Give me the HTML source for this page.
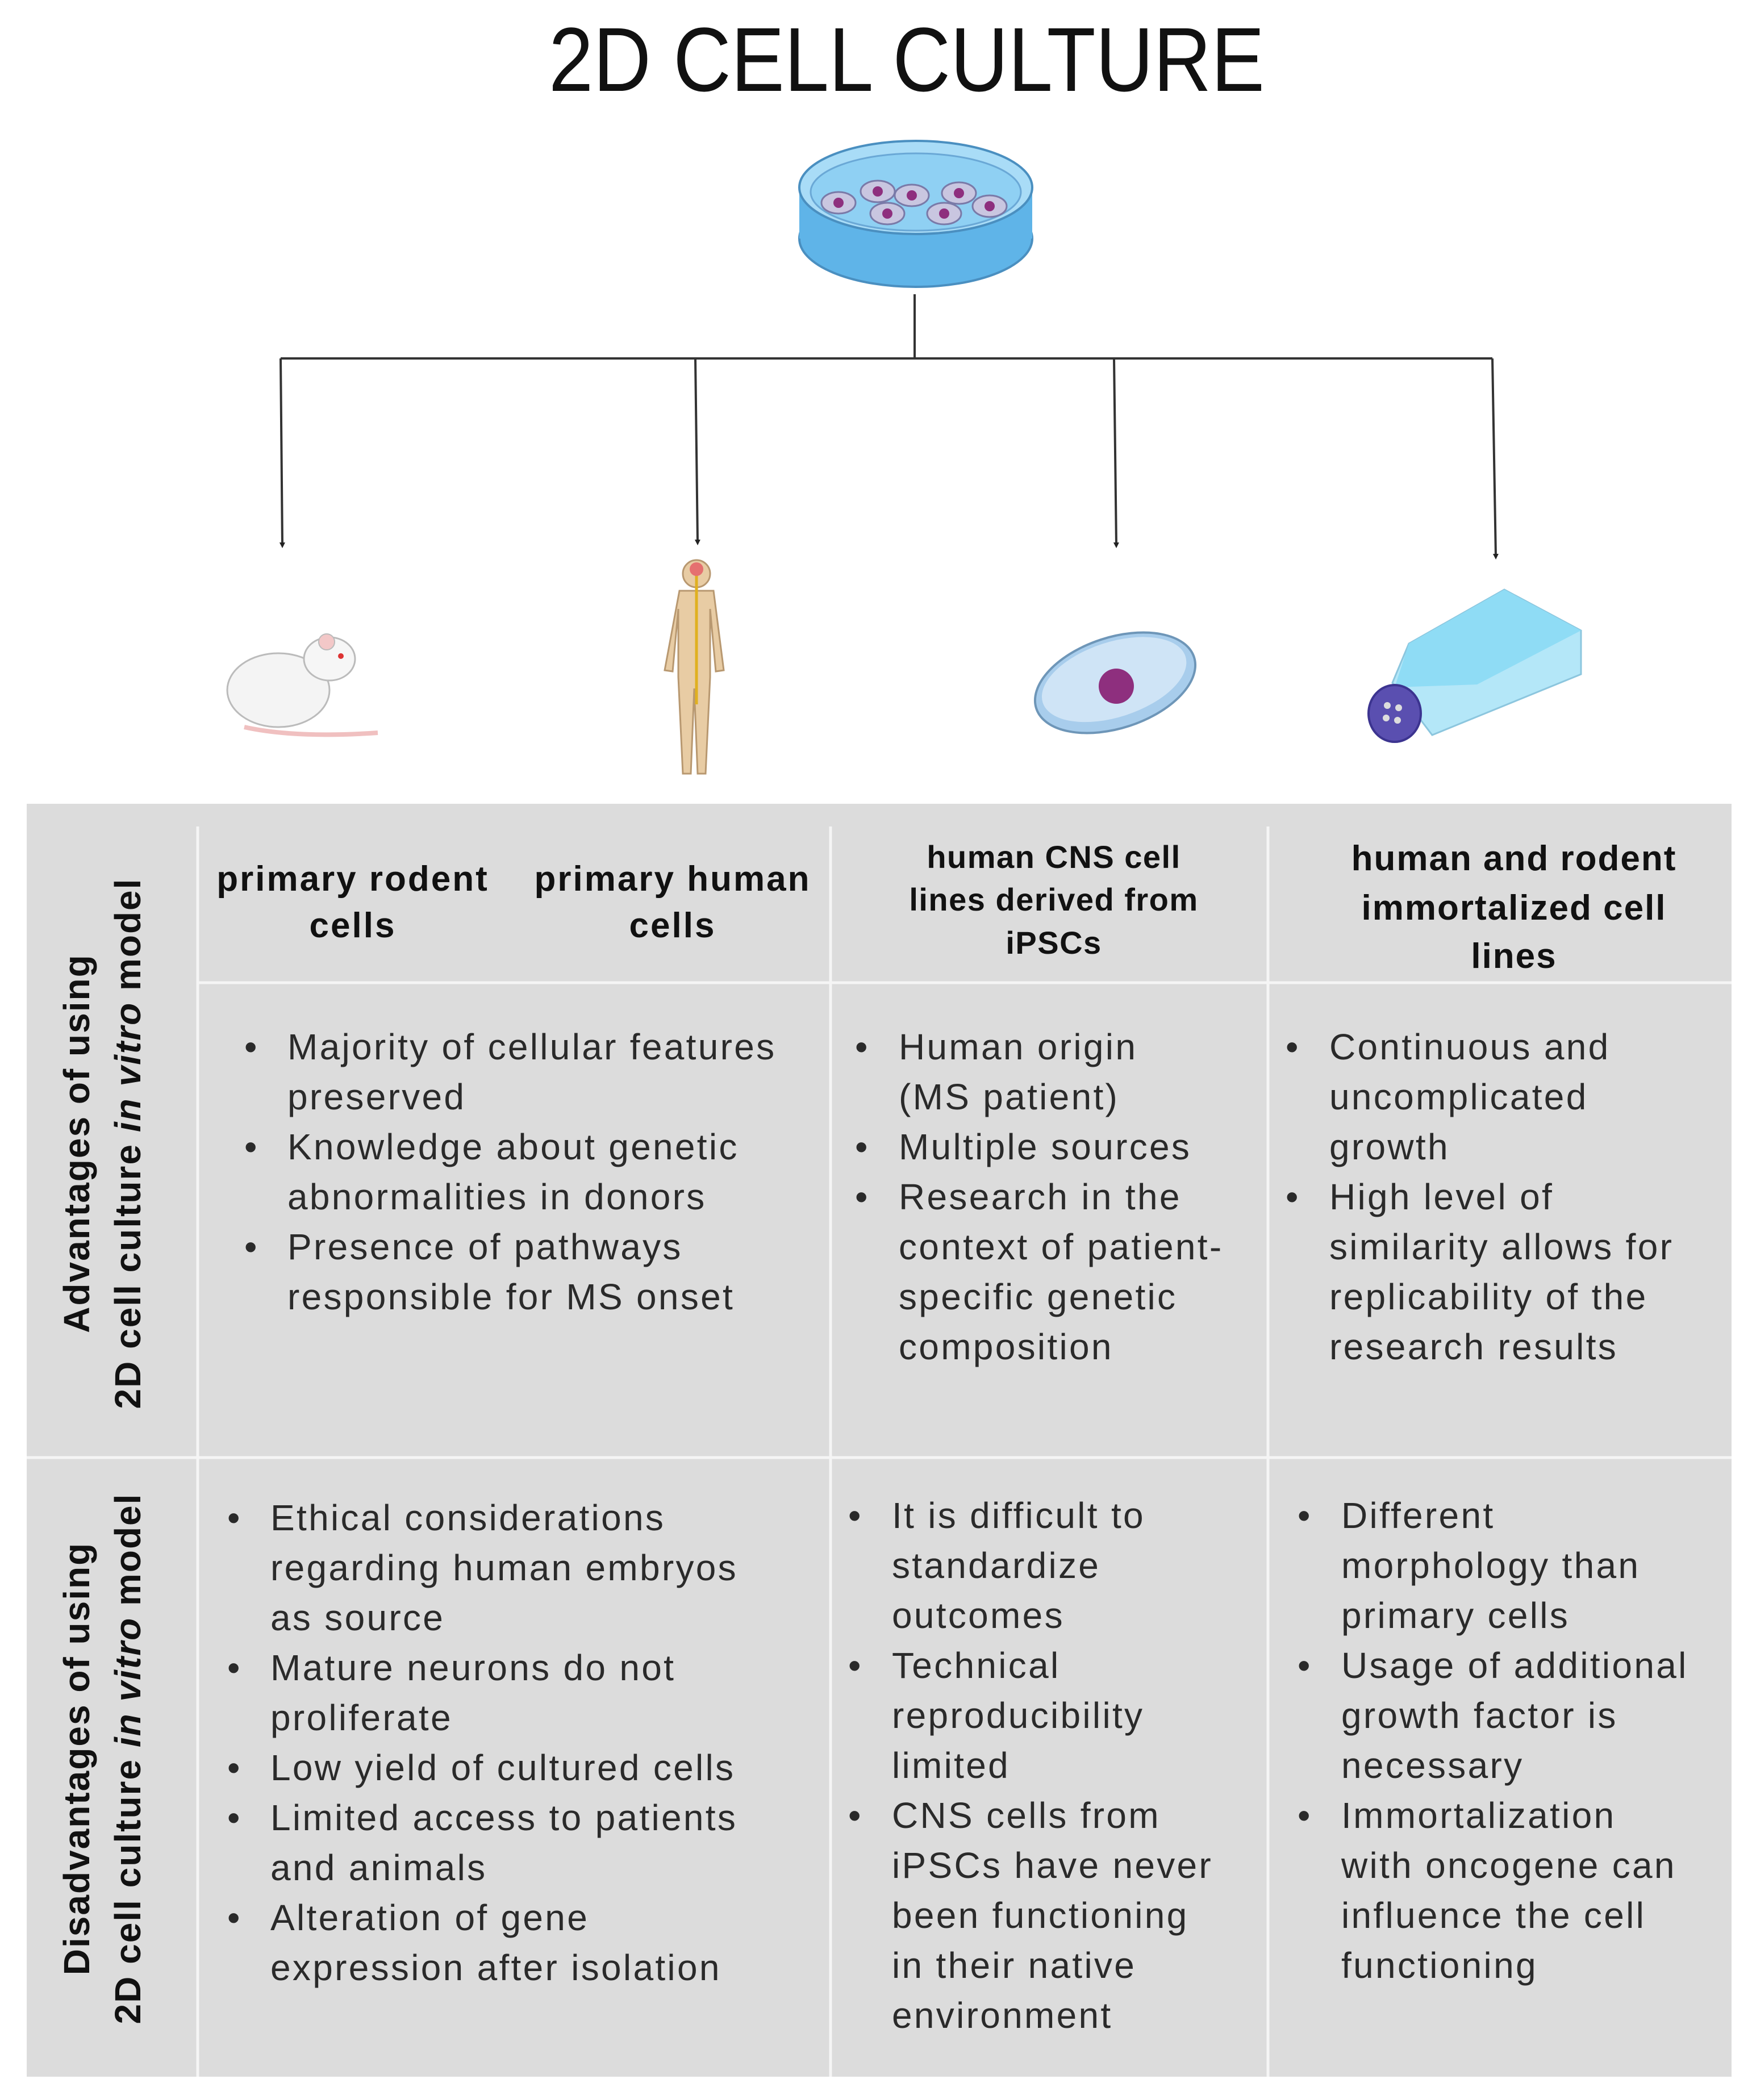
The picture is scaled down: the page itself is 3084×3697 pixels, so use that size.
<!DOCTYPE html>
<html><head><meta charset="utf-8"><style>
html,body{margin:0;padding:0;background:#fff;}
svg{display:block;}
.b{font-family:"Liberation Sans",sans-serif;font-size:64px;fill:#2a2a2a;letter-spacing:3.3px;}
.h{font-family:"Liberation Sans",sans-serif;font-weight:bold;fill:#111;text-anchor:middle;}
.r{font-family:"Liberation Sans",sans-serif;font-weight:bold;font-size:64px;fill:#111;text-anchor:middle;letter-spacing:2px;}
</style></head><body>
<svg width="3084" height="3697" viewBox="0 0 3084 3697" xmlns="http://www.w3.org/2000/svg">
<defs><marker id="ar" markerWidth="10" markerHeight="10" refX="5" refY="5" orient="auto" markerUnits="userSpaceOnUse"><path d="M0,0 L10,5 L0,10z" fill="#222"/></marker></defs>
<text x="1596" y="160" text-anchor="middle" font-family="Liberation Sans,sans-serif" font-size="160" fill="#111" textLength="1260" lengthAdjust="spacingAndGlyphs">2D CELL CULTURE</text>
<g>
<ellipse cx="1612" cy="420" rx="205" ry="85" fill="#5fb4e8" stroke="#4a8fc0" stroke-width="4"/>
<rect x="1407" y="330" width="410" height="90" fill="#5fb4e8"/>
<ellipse cx="1612" cy="330" rx="205" ry="82" fill="#a9dcf7" stroke="#4a8fc0" stroke-width="4"/>
<ellipse cx="1612" cy="338" rx="185" ry="68" fill="#8fd0f3" stroke="#6aa8d6" stroke-width="3"/>
<g fill="#c9c6e0" stroke="#7a7aa8" stroke-width="3">
<ellipse cx="1476" cy="357" rx="30" ry="19"/><ellipse cx="1545" cy="337" rx="30" ry="19"/><ellipse cx="1605" cy="344" rx="30" ry="19"/><ellipse cx="1688" cy="340" rx="30" ry="19"/><ellipse cx="1562" cy="376" rx="30" ry="19"/><ellipse cx="1662" cy="376" rx="30" ry="19"/><ellipse cx="1742" cy="363" rx="30" ry="19"/>
</g>
<g fill="#8e2f7e"><circle cx="1476" cy="357" r="9"/><circle cx="1545" cy="337" r="9"/><circle cx="1605" cy="344" r="9"/><circle cx="1688" cy="340" r="9"/><circle cx="1562" cy="376" r="9"/><circle cx="1662" cy="376" r="9"/><circle cx="1742" cy="363" r="9"/></g>
</g>
<g stroke="#333" stroke-width="4" fill="none">
<line x1="1610" y1="518" x2="1610" y2="631"/>
<line x1="494" y1="631" x2="2627" y2="631"/>
<line x1="494" y1="631" x2="497" y2="960" marker-end="url(#ar)"/>
<line x1="1224" y1="631" x2="1228" y2="955" marker-end="url(#ar)"/>
<line x1="1961" y1="631" x2="1965" y2="960" marker-end="url(#ar)"/>
<line x1="2627" y1="631" x2="2633" y2="980" marker-end="url(#ar)"/>
</g>
<g>
<ellipse cx="490" cy="1215" rx="90" ry="65" fill="#f4f4f4" stroke="#bbb" stroke-width="3"/>
<ellipse cx="580" cy="1160" rx="45" ry="38" fill="#f6f6f6" stroke="#bbb" stroke-width="3"/>
<circle cx="575" cy="1130" r="14" fill="#f3c8c8" stroke="#bbb" stroke-width="2"/>
<circle cx="600" cy="1155" r="5" fill="#d33"/>
<path d="M430 1280 Q520 1300 665 1290" stroke="#f0c0c0" stroke-width="8" fill="none"/>
</g>
<g fill="#e8cca4" stroke="#b89870" stroke-width="3">
<circle cx="1226" cy="1010" r="24"/>
<path d="M1196 1040 h60 l18 140 l-14 2 l-10 -110 l0 120 l-8 170 h-14 l-6 -150 l-6 150 h-14 l-8 -170 l0 -120 l-10 110 l-14 -2z"/>
</g>
<line x1="1226" y1="1000" x2="1226" y2="1240" stroke="#e0b020" stroke-width="5"/>
<circle cx="1226" cy="1002" r="12" fill="#e57070"/>
<g transform="rotate(-18 1963 1202)">
<ellipse cx="1963" cy="1202" rx="146" ry="80" fill="#a8cdec" stroke="#6e96b8" stroke-width="4"/>
<ellipse cx="1963" cy="1196" rx="132" ry="66" fill="#cfe4f6"/>
</g>
<circle cx="1965" cy="1208" r="31" fill="#8e2f7e"/>
<g>
<polygon points="2480,1133 2648,1038 2783,1110 2783,1187 2521,1294 2451,1202" fill="#b4e7f8" stroke="#8cc6de" stroke-width="3"/>
<polygon points="2480,1133 2648,1038 2783,1110 2600,1205 2455,1210" fill="#8fdcf5"/>
<ellipse cx="2455" cy="1256" rx="46" ry="50" fill="#5a4fb0" stroke="#3c3490" stroke-width="4"/>
<g fill="#ddd"><circle cx="2442" cy="1242" r="6"/><circle cx="2462" cy="1246" r="6"/><circle cx="2440" cy="1264" r="6"/><circle cx="2460" cy="1268" r="6"/></g>
</g>
<rect x="47" y="1415" width="3001" height="2241" fill="#dcdcdc"/>
<g stroke="#f5f5f5" stroke-width="5">
<line x1="348" y1="1455" x2="348" y2="3656"/>
<line x1="1462" y1="1455" x2="1462" y2="3656"/>
<line x1="2232" y1="1455" x2="2232" y2="3656"/>
<line x1="348" y1="1730" x2="3048" y2="1730"/>
<line x1="47" y1="2566" x2="3048" y2="2566"/>
</g>
<g class="h" font-size="62" letter-spacing="3">
<text x="621" y="1568">primary rodent</text><text x="621" y="1650">cells</text>
<text x="1184" y="1568">primary human</text><text x="1184" y="1650">cells</text>
</g>
<g class="h" font-size="62" letter-spacing="2">
<text x="2665" y="1532">human and rodent</text><text x="2665" y="1619">immortalized cell</text><text x="2665" y="1704">lines</text>
</g>
<g class="h" font-size="56" letter-spacing="1.5">
<text x="1855" y="1528">human CNS cell</text><text x="1855" y="1603">lines derived from</text><text x="1855" y="1679">iPSCs</text>
</g>
<g transform="translate(179 2013) rotate(-90)"><text class="r" x="0" y="-22">Advantages of using</text><text class="r" x="0" y="68">2D cell culture <tspan font-style="italic">in vitro</tspan> model</text></g>
<g transform="translate(179 3096) rotate(-90)"><text class="r" x="0" y="-22">Disadvantages of using</text><text class="r" x="0" y="68">2D cell culture <tspan font-style="italic">in vitro</tspan> model</text></g>
<g class="b">
<text x="430" y="1865">•</text><text x="506" y="1865">Majority of cellular features</text>
<text x="506" y="1953">preserved</text>
<text x="430" y="2041">•</text><text x="506" y="2041">Knowledge about genetic</text>
<text x="506" y="2129">abnormalities in donors</text>
<text x="430" y="2217">•</text><text x="506" y="2217">Presence of pathways</text>
<text x="506" y="2305">responsible for MS onset</text>
</g>
<g class="b">
<text x="1505" y="1865">•</text><text x="1582" y="1865">Human origin</text>
<text x="1582" y="1953">(MS patient)</text>
<text x="1505" y="2041">•</text><text x="1582" y="2041">Multiple sources</text>
<text x="1505" y="2129">•</text><text x="1582" y="2129">Research in the</text>
<text x="1582" y="2217">context of patient-</text>
<text x="1582" y="2305">specific genetic</text>
<text x="1582" y="2393">composition</text>
</g>
<g class="b">
<text x="2263" y="1865">•</text><text x="2340" y="1865">Continuous and</text>
<text x="2340" y="1953">uncomplicated</text>
<text x="2340" y="2041">growth</text>
<text x="2263" y="2129">•</text><text x="2340" y="2129">High level of</text>
<text x="2340" y="2217">similarity allows for</text>
<text x="2340" y="2305">replicability of the</text>
<text x="2340" y="2393">research results</text>
</g>
<g class="b">
<text x="400" y="2694">•</text><text x="476" y="2694">Ethical considerations</text>
<text x="476" y="2782">regarding human embryos</text>
<text x="476" y="2870">as source</text>
<text x="400" y="2958">•</text><text x="476" y="2958">Mature neurons do not</text>
<text x="476" y="3046">proliferate</text>
<text x="400" y="3134">•</text><text x="476" y="3134">Low yield of cultured cells</text>
<text x="400" y="3222">•</text><text x="476" y="3222">Limited access to patients</text>
<text x="476" y="3310">and animals</text>
<text x="400" y="3398">•</text><text x="476" y="3398">Alteration of gene</text>
<text x="476" y="3486">expression after isolation</text>
</g>
<g class="b">
<text x="1493" y="2690">•</text><text x="1570" y="2690">It is difficult to</text>
<text x="1570" y="2778">standardize</text>
<text x="1570" y="2866">outcomes</text>
<text x="1493" y="2954">•</text><text x="1570" y="2954">Technical</text>
<text x="1570" y="3042">reproducibility</text>
<text x="1570" y="3130">limited</text>
<text x="1493" y="3218">•</text><text x="1570" y="3218">CNS cells from</text>
<text x="1570" y="3306">iPSCs have never</text>
<text x="1570" y="3394">been functioning</text>
<text x="1570" y="3482">in their native</text>
<text x="1570" y="3570">environment</text>
</g>
<g class="b">
<text x="2284" y="2690">•</text><text x="2361" y="2690">Different</text>
<text x="2361" y="2778">morphology than</text>
<text x="2361" y="2866">primary cells</text>
<text x="2284" y="2954">•</text><text x="2361" y="2954">Usage of additional</text>
<text x="2361" y="3042">growth factor is</text>
<text x="2361" y="3130">necessary</text>
<text x="2284" y="3218">•</text><text x="2361" y="3218">Immortalization</text>
<text x="2361" y="3306">with oncogene can</text>
<text x="2361" y="3394">influence the cell</text>
<text x="2361" y="3482">functioning</text>
</g>
</svg>
</body></html>
